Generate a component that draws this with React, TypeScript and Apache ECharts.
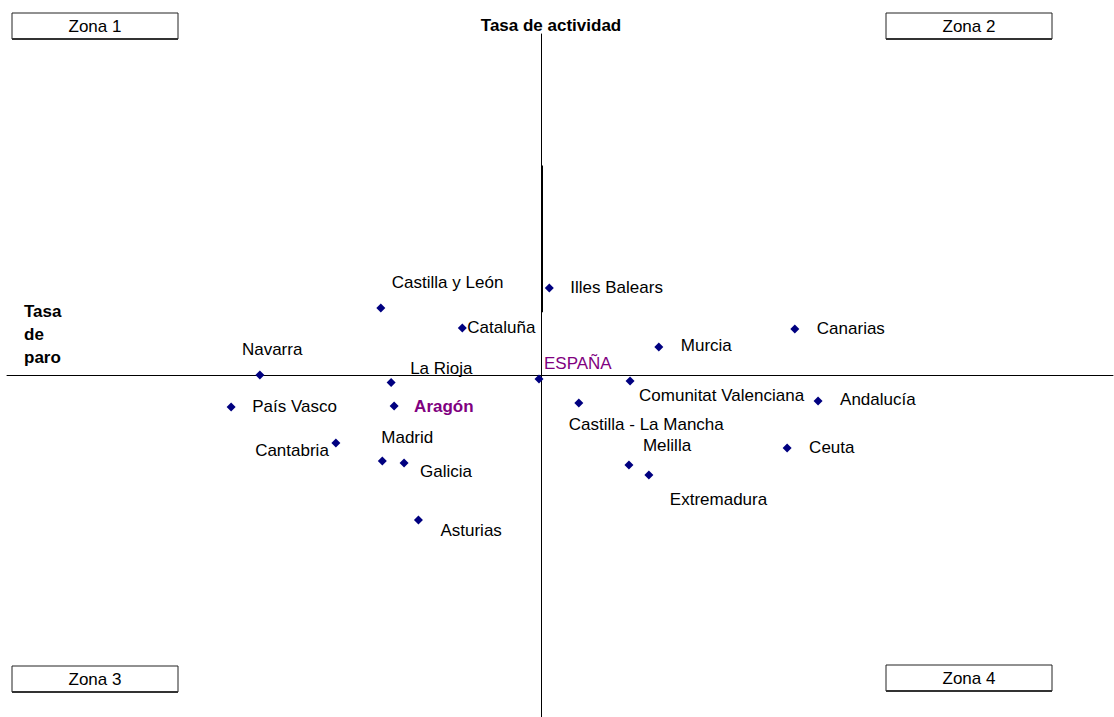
import React, { useEffect, useRef } from "react";
import * as echarts from "echarts";

// Regions (deviation from reference axes crossing)
const regions = [
  "Castilla y León",
  "Illes Balears",
  "Cataluña",
  "Canarias",
  "Murcia",
  "Navarra",
  "La Rioja",
  "ESPAÑA",
  "Comunitat Valenciana",
  "País Vasco",
  "Aragón",
  "Castilla - La Mancha",
  "Andalucía",
  "Cantabria",
  "Ceuta",
  "Madrid",
  "Galicia",
  "Melilla",
  "Extremadura",
  "Asturias",
];

// Tasa de paro (x) and Tasa de actividad (y)
const tasaParo = [
  -4.36, 0.21, -2.15, 6.87, 3.18, -7.64, -4.08, -0.07, 2.4, -8.42, -4.0, 1.01, 7.5, -5.58, 6.66,
  -4.32, -3.73, 2.37, 2.91, -3.34,
];
const tasaActividad = [
  3.95, 5.12, 2.78, 2.72, 1.67, 0.03, -0.41, -0.2, -0.32, -1.84, -1.79, -1.61, -1.49, -3.95, -4.25,
  -5.01, -5.12, -5.24, -5.83, -8.46,
];

// Label placement (layout only): [dx, dy, align]
const labelPlacement: [number, number, string][] = [
  [11, -26, "left"],
  [21, -1, "left"],
  [5, -1, "left"],
  [22, -1, "left"],
  [22, -1, "left"],
  [-18, -25, "left"],
  [19, -14, "left"],
  [5, -15, "left"],
  [9, 15, "left"],
  [21, 0, "left"],
  [20, 0, "left"],
  [-10, 22, "left"],
  [22, -1, "left"],
  [-7, 8, "right"],
  [22, -1, "left"],
  [-1, -24, "left"],
  [16, 9, "left"],
  [14, -19, "left"],
  [21, 24, "left"],
  [22, 11, "left"],
];

const zonas = ["Zona 1", "Zona 2", "Zona 3", "Zona 4"];
const titleY = "Tasa de actividad";
const titleX = "Tasa\nde\nparo";

const FONT = "'Liberation Sans', Arial, Helvetica, sans-serif";

export default function App() {
  const ref = useRef<HTMLDivElement>(null);
  useEffect(() => {
    document.body.style.margin = "0";
    if (!ref.current) return;
    const chart = echarts.init(ref.current, null, { renderer: "svg" });

    const data = regions.map((name, i) => {
      const [dx, dy, align] = labelPlacement[i];
      const label: any = { offset: [dx, dy], align };
      if (name === "Aragón") {
        label.color = "#800080";
        label.fontWeight = "bold";
      }
      if (name === "ESPAÑA") {
        label.color = "#800080";
      }
      return { name, value: [tasaParo[i], tasaActividad[i]], label };
    });

    const zonaBox = (x: number, y: number, text: string) => ({
      type: "group",
      x,
      y,
      children: [
        {
          type: "rect",
          shape: { x: 0, y: 0, width: 166, height: 26 },
          style: { fill: "#fff", stroke: "#222", lineWidth: 1 },
        },
        {
          type: "line",
          shape: { x1: 0, y1: 26, x2: 166, y2: 26 },
          style: { stroke: "#333", lineWidth: 2 },
        },
        {
          type: "text",
          x: 83,
          y: 13,
          style: {
            text,
            fill: "#000",
            font: `17px ${FONT}`,
            align: "center",
            verticalAlign: "middle",
          },
        },
      ],
    });

    chart.setOption({
      animation: false,
      backgroundColor: "#fff",
      grid: { left: 7, right: 1, top: 34, bottom: 0, containLabel: false },
      xAxis: {
        type: "value",
        min: -14.5,
        max: 15.5,
        axisLine: { show: true, onZero: true, lineStyle: { color: "#000", width: 1 } },
        axisTick: { show: false },
        axisLabel: { show: false },
        splitLine: { show: false },
      },
      yAxis: {
        type: "value",
        min: -20,
        max: 20,
        axisLine: { show: true, onZero: true, lineStyle: { color: "#000", width: 1 } },
        axisTick: { show: false },
        axisLabel: { show: false },
        splitLine: { show: false },
      },
      series: [
        {
          type: "scatter",
          symbol: "diamond",
          symbolSize: 9,
          itemStyle: { color: "#000080", opacity: 1 },
          label: {
            show: true,
            position: "inside",
            formatter: "{b}",
            verticalAlign: "middle",
            color: "#000",
            fontSize: 17,
            fontFamily: FONT,
          },
          data,
          markLine: {
            silent: true,
            symbol: "none",
            label: { show: false },
            lineStyle: { color: "#000", width: 2, type: "solid" },
            data: [[{ coord: [0, 12.3] }, { coord: [0, 3.7] }]],
          },
        },
      ],
      graphic: [
        zonaBox(12, 13, zonas[0]),
        zonaBox(886, 13, zonas[1]),
        zonaBox(12, 666, zonas[2]),
        zonaBox(886, 665, zonas[3]),
        {
          type: "text",
          x: 551,
          y: 25,
          style: {
            text: titleY,
            fill: "#000",
            font: `bold 17px ${FONT}`,
            align: "center",
            verticalAlign: "middle",
          },
        },
        {
          type: "text",
          x: 24,
          y: 300,
          style: {
            text: titleX,
            fill: "#000",
            font: `bold 17px ${FONT}`,
            lineHeight: 23,
            align: "left",
            verticalAlign: "top",
          },
        },
      ],
    });
    return () => chart.dispose();
  }, []);
  return <div ref={ref} style={{ width: 1114, height: 717 }} />;
}
